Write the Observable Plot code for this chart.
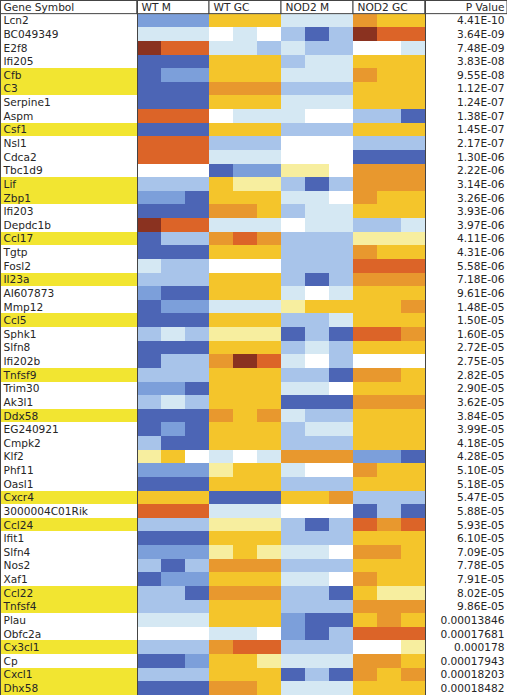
<!DOCTYPE html>
<html><head><meta charset="utf-8">
<script src="https://cdn.jsdelivr.net/npm/d3@7"></script>
<script src="https://cdn.jsdelivr.net/npm/@observablehq/plot@0.6"></script>
<style>
html,body{margin:0;padding:0;background:#fff;}
#table{display:flex;width:507px;height:695px;}
#table svg{display:block;}
</style></head><body><div id="table"></div>
<script>
// ---- data ----
const genes = ["Lcn2","BC049349","E2f8","Ifi205","Cfb","C3","Serpine1","Aspm","Csf1","Nsl1",
  "Cdca2","Tbc1d9","Lif","Zbp1","Ifi203","Depdc1b","Ccl17","Tgtp","Fosl2","Il23a",
  "AI607873","Mmp12","Ccl5","Sphk1","Slfn8","Ifi202b","Tnfsf9","Trim30","Ak3l1","Ddx58",
  "EG240921","Cmpk2","Klf2","Phf11","Oasl1","Cxcr4","3000004C01Rik","Ccl24","Ifit1","Slfn4",
  "Nos2","Xaf1","Ccl22","Tnfsf4","Plau","Obfc2a","Cx3cl1","Cp","Cxcl1","Dhx58"];
const pValues = ["4.41E-10","3.64E-09","7.48E-09","3.83E-08","9.55E-08","1.12E-07","1.24E-07","1.38E-07","1.45E-07","2.17E-07",
  "1.30E-06","2.22E-06","3.14E-06","3.26E-06","3.93E-06","3.97E-06","4.11E-06","4.31E-06","5.58E-06","7.18E-06",
  "9.61E-06","1.48E-05","1.50E-05","1.60E-05","2.72E-05","2.75E-05","2.82E-05","2.90E-05","3.62E-05","3.84E-05",
  "3.99E-05","4.18E-05","4.28E-05","5.10E-05","5.18E-05","5.47E-05","5.88E-05","5.93E-05","6.10E-05","7.09E-05",
  "7.78E-05","7.91E-05","8.02E-05","9.86E-05","0.00013846","0.00017681","0.000178","0.00017943","0.00018203","0.00018482"];
const highlighted = ["Cfb","C3","Csf1","Lif","Zbp1","Ccl17","Il23a","Ccl5","Tnfsf9","Ddx58",
  "Cxcr4","Ccl24","Ccl22","Tnfsf4","Cx3cl1","Cxcl1","Dhx58"];
const conditions = ["WT M","WT GC","NOD2 M","NOD2 GC"];
// expression levels: -4 darkest blue ... 0 white ... 5 dark red (3 replicates per condition)
const wtM = [[-3,-3,-3],[-1,-1,-1],[5,4,4],[-4,-4,-4],[-4,-3,-3],[-4,-4,-4],[-4,-4,-4],[4,4,4],[-4,-4,-4],[4,4,4],
  [4,4,4],[0,0,0],[-2,-2,-2],[-3,-3,-4],[-4,-4,-4],[5,4,4],[-4,-2,-2],[-4,-4,-4],[-1,-2,-2],[-2,-2,-2],
  [-3,-4,-4],[-4,-3,-3],[-4,-4,-4],[-2,-1,-2],[-4,-4,-4],[-4,-2,-2],[-2,-2,-2],[-3,-3,-4],[-2,-1,-2],[-4,-4,-4],
  [-4,-3,-4],[-2,-4,-4],[1,2,0],[-3,-3,-3],[-4,-4,-4],[2,2,2],[4,4,4],[-2,-2,-2],[-4,-4,-4],[-3,-3,-3],
  [-2,-4,-2],[-4,-3,-3],[-2,-2,-4],[-2,-2,-2],[-1,-1,-1],[0,0,0],[-2,-2,-2],[-4,-4,-3],[-2,-2,-2],[-4,-4,-4]];
const wtGC = [[2,2,2],[0,-1,0],[-1,-1,-2],[2,2,2],[2,2,2],[3,3,3],[2,2,2],[0,-1,-1],[2,2,2],[-2,-2,-2],
  [-1,-1,-1],[-4,-3,-3],[2,1,1],[2,2,2],[3,3,2],[-1,-1,-1],[3,4,3],[2,2,2],[0,0,0],[2,2,2],
  [2,2,2],[-1,-1,-1],[2,2,2],[1,1,1],[2,2,2],[3,5,4],[2,2,2],[2,2,2],[2,2,2],[3,2,3],
  [2,2,2],[2,2,2],[-1,0,-1],[1,2,2],[2,2,2],[-4,-4,-4],[-1,-1,-1],[1,1,1],[2,2,2],[1,2,1],
  [3,3,3],[2,2,2],[3,3,3],[2,2,2],[2,2,2],[-1,-1,0],[3,4,4],[2,2,1],[2,2,2],[3,3,2]];
const nod2M = [[-1,-1,-1],[-2,-4,-2],[-1,-2,-2],[-2,-1,-1],[-1,-1,-1],[-2,-2,-2],[-1,-1,-1],[-1,0,0],[-2,-2,-2],[0,0,0],
  [0,0,0],[1,1,0],[-2,-4,-2],[-1,-1,0],[-2,-1,-1],[0,-1,-1],[-2,-2,-2],[-2,-2,-2],[-2,-2,-2],[-2,-4,-2],
  [-1,0,-1],[1,2,2],[-2,-2,-1],[-4,-2,-4],[-2,-1,-2],[-1,0,-2],[-2,-2,-4],[-1,-1,0],[-4,-4,-4],[-1,-2,-2],
  [-2,-1,-1],[-2,-2,-2],[3,3,3],[-1,0,0],[-2,-2,-2],[2,2,3],[0,0,0],[-2,-4,-2],[-2,-2,-2],[-1,-1,0],
  [-2,-2,-2],[-1,-1,0],[-2,-2,-4],[-2,-2,-2],[-3,-4,-4],[-3,-4,-2],[-2,-2,-2],[-1,-1,-1],[-4,-2,-4],[-1,-1,-1]];
const nod2GC = [[3,2,2],[5,4,4],[0,0,-1],[2,2,2],[3,2,2],[2,2,2],[2,2,2],[-2,-2,-4],[2,2,2],[-2,-2,-2],
  [-4,-4,-4],[3,3,3],[3,3,3],[3,2,2],[2,2,2],[-2,-2,-1],[1,1,1],[3,2,2],[4,4,4],[3,3,3],
  [2,2,2],[2,2,3],[2,2,2],[4,4,3],[2,2,2],[0,0,0],[3,3,2],[2,2,2],[3,3,3],[2,2,2],
  [2,2,2],[2,2,2],[-3,-3,-4],[3,2,2],[2,2,2],[-2,-2,-2],[-4,-2,-4],[4,3,4],[2,2,2],[3,3,2],
  [2,2,2],[3,2,2],[2,1,1],[3,3,3],[2,3,2],[4,4,4],[0,0,1],[3,3,2],[3,2,3],[2,2,2]];
const levelCodes = [-4,-3,-2,-1,0,1,2,3,4,5];

// ---- styles ----
const levelColors = ["#4C65B5","#7C9FDA","#A8C4EA","#D5E8F3","#FFFFFF","#F7EE9F","#F4C52B","#E8982E","#DC6428","#8A3220"];
const HL = "#F2E531";
const LINE = "#444";
const INK = "#262626";
const FS = 10.6;
const HEADER = "__header__";
const H = 695;

const rowDomain = [HEADER, ...genes];
const common = {
  height: H, margin: 0,
  y: {type: "band", domain: rowDomain, padding: 0, axis: null},
  style: {fontFamily: "'DejaVu Sans', Verdana, sans-serif", background: "white", overflow: "visible"}
};

const nameRows = [{key: HEADER, label: "Gene Symbol"}, ...genes.map(g => ({key: g, label: g}))];
const pRows = [{key: HEADER, label: "P Value"}, ...genes.map((g, i) => ({key: g, label: pValues[i]}))];

const matrices = [wtM, wtGC, nod2M, nod2GC];
const cells = [];
genes.forEach((g, r) => matrices.forEach((m, c) => m[r].forEach((v, k) =>
  cells.push({gene: g, col: c * 3 + k, level: v}))));

const namesPlot = Plot.plot({
  ...common, width: 137,
  marks: [
    Plot.cell(highlighted, {y: d => d, fill: HL, shapeRendering: "crispEdges"}),
    Plot.cell([HEADER], {y: d => d, fill: "none", stroke: LINE}),
    Plot.text(nameRows, {y: "key", text: "label", frameAnchor: "left", textAnchor: "start", dx: 3, fontSize: FS, fill: INK}),
    Plot.frame({stroke: LINE})
  ]
});

const heatPlot = Plot.plot({
  ...common, width: 288,
  x: {domain: [0, 12], axis: null},
  color: {type: "ordinal", domain: levelCodes, range: levelColors},
  marks: [
    Plot.barX(cells, {x1: "col", x2: d => d.col + 1, y: "gene", fill: "level", shapeRendering: "crispEdges"}),
    Plot.barX(conditions, {x1: (d, i) => 3 * i, x2: (d, i) => 3 * i + 3, y: () => HEADER, fill: "white", stroke: LINE}),
    Plot.text(conditions, {x: (d, i) => 3 * i, y: () => HEADER, text: d => d, textAnchor: "start", dx: 4, fontSize: FS, fill: INK}),
    Plot.frame({stroke: LINE})
  ]
});

const pPlot = Plot.plot({
  ...common, width: 82,
  marks: [
    Plot.cell([HEADER], {y: d => d, fill: "none", stroke: LINE}),
    Plot.text(pRows, {y: "key", text: "label", frameAnchor: "right", textAnchor: "end", dx: -3, fontSize: FS, fill: INK}),
    Plot.frame({stroke: LINE})
  ]
});

const table = document.getElementById("table");
table.append(namesPlot, heatPlot, pPlot);
</script>
</body></html>
